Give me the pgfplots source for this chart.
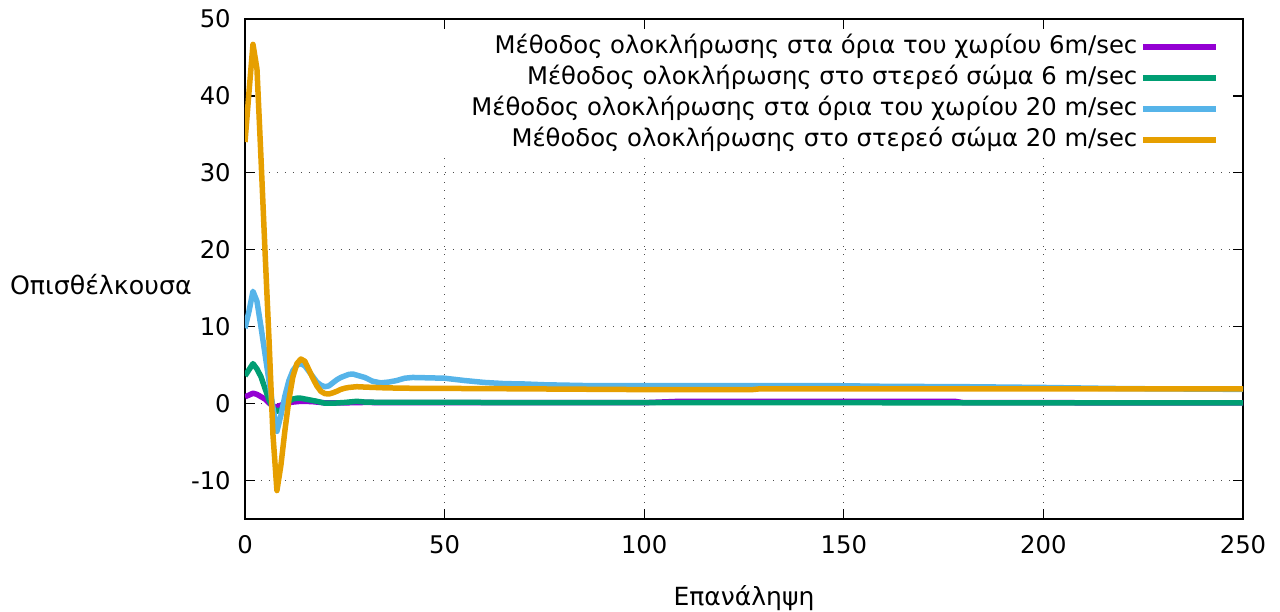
\documentclass[border=0pt]{standalone}
\usepackage{fontspec}
\setmainfont{DejaVu Sans}
\usepackage{pgfplots}
\pgfplotsset{compat=1.18}
\definecolor{cpurple}{HTML}{9400D3}
\definecolor{cgreen}{HTML}{009E73}
\definecolor{cblue}{HTML}{56B4E9}
\definecolor{corange}{HTML}{E69F00}
\begin{document}
\fontsize{24.3pt}{29pt}\selectfont
\begin{tikzpicture}[font=\fontsize{24.3pt}{29pt}\selectfont]
\begin{axis}[name=ax, scale only axis, width=998pt, height=500pt,
 xmin=0,xmax=250,ymin=-15,ymax=50,
 xtick={0,50,...,250}, ytick={-10,0,...,50},
 /pgf/number format/assume math mode=true,
 axis line style={line width=1.5pt},
 major tick length=10pt,
 tick style={black, line width=1.2pt},
 grid=major,
 major grid style={black!70, line width=1pt, dash pattern=on 1pt off 7pt},
 xticklabel style={yshift=-8pt},
 yticklabel style={xshift=-6pt},
 every axis x label/.style={at={(rel axis cs:0.5,0)}, anchor=center, yshift=-79pt, font=\fontsize{25pt}{30pt}\selectfont},
 every axis y label/.style={at={(rel axis cs:0,0.468)}, anchor=east, xshift=-45pt, font=\fontsize{25.3pt}{30pt}\selectfont},
 xlabel={Επανάληψη}, ylabel={Οπισθέλκουσα},
 legend plot pos=right, legend cell align=right,
 legend style={draw=none, fill=none, at={(rel axis cs:1,1)}, anchor=north east,
   xshift=-22pt, yshift=-10.5pt, inner sep=2pt,
   nodes={text height=19pt, text depth=6pt, inner ysep=2.95pt, inner xsep=3pt},
   /tikz/every even column/.append style={column sep=7pt}},
 legend image code/.code={\draw[#1] (0pt,0pt) -- (73pt,0pt);},
 every axis plot/.append style={line width=5.5pt, line join=round},
]
% opaque key area (covers grid, like the original's key box)
\addplot[draw=none, fill=white, line width=0pt, forget plot] coordinates {(2.6,32.3)(247.4,32.3)(247.4,48.7)(2.6,48.7)} -- cycle;
\addplot[cpurple] coordinates {(0,0.9)(1,1.1)(2,1.35)(3,1.2)(4,0.9)(5,0.6)(6,0.1)(7,-0.4)(8,-0.4)(9,-0.2)(10,0)(11,0.1)(12,0.2)(13,0.25)(14,0.3)(15,0.3)(17,0.25)(20,0.1)(25,0.1)(30,0.15)(40,0.12)(60,0.12)(100,0.12)(108,0.28)(178,0.28)(180,0.12)(250,0.1)};
\addlegendentry{Μέθοδος ολοκλήρωσης στα όρια του χωρίου 6m/sec}
\addplot[cgreen] coordinates {(0,3.6)(1,4.4)(2,5.2)(3,4.5)(4,3.5)(5,2.0)(6,0.5)(7,-0.6)(8,-1.0)(9,-0.8)(10,-0.2)(11,0.3)(12,0.6)(13,0.7)(14,0.7)(15,0.6)(16,0.5)(18,0.3)(20,0.05)(22,0.05)(25,0.15)(28,0.3)(30,0.2)(35,0.15)(50,0.15)(100,0.12)(250,0.1)};
\addlegendentry{Μέθοδος ολοκλήρωσης στο στερεό σώμα 6 m/sec}
\addplot[cblue] coordinates {(0,9.8)(1,12)(2,14.6)(3,13.3)(4,10)(5,6.5)(6,3)(7,-0.5)(8,-3.6)(9,-1.5)(10,1)(11,3)(12,4.3)(13,5.0)(14,5.2)(15,4.9)(16,4.2)(17,3.5)(18,2.8)(19,2.4)(20,2.2)(21,2.3)(22,2.7)(23,3.1)(24,3.4)(26,3.8)(27,3.85)(28,3.7)(30,3.4)(32,2.9)(34,2.7)(36,2.8)(38,3.0)(40,3.3)(42,3.4)(46,3.35)(50,3.3)(55,3.0)(60,2.75)(65,2.6)(70,2.55)(75,2.45)(80,2.4)(85,2.35)(100,2.35)(145,2.35)(160,2.25)(180,2.2)(200,2.1)(220,1.95)(250,1.85)};
\addlegendentry{Μέθοδος ολοκλήρωσης στα όρια του χωρίου 20 m/sec}
\addplot[corange] coordinates {(0,34)(1,40.5)(2,46.7)(3,43.5)(4,32)(5,20)(6,8.5)(7,-4)(8,-11.3)(9,-8)(10,-3.5)(11,0.5)(12,3.5)(13,5.2)(14,5.8)(15,5.5)(16,4.4)(17,3.3)(18,2.3)(19,1.6)(20,1.3)(21,1.25)(22,1.4)(23,1.6)(24,1.85)(25,2.0)(26,2.1)(28,2.2)(30,2.15)(35,2.05)(40,2.0)(60,1.95)(100,1.82)(127,1.82)(129,1.92)(250,1.92)};
\addlegendentry{Μέθοδος ολοκλήρωσης στο στερεό σώμα 20 m/sec}
\end{axis}
\pgfresetboundingbox
\path[use as bounding box] ([xshift=-245pt,yshift=-93pt]ax.south west) rectangle ([xshift=37pt,yshift=19pt]ax.north east);
\end{tikzpicture}
\end{document}
